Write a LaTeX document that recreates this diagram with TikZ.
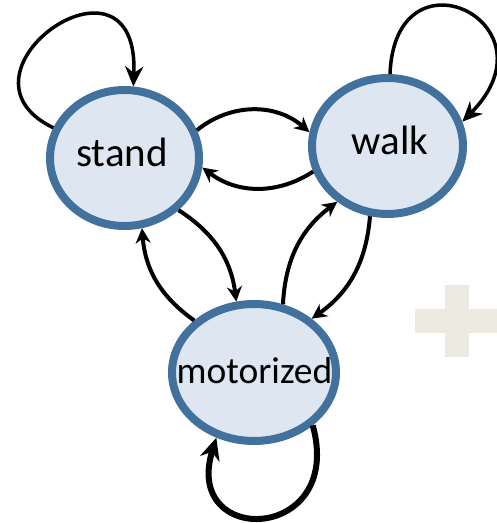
\documentclass[tikz,border=0pt]{standalone}
\usepackage{fontspec}
\setmainfont{Carlito}
\usetikzlibrary{shapes.geometric,arrows.meta}
\definecolor{stborder}{RGB}{65,113,156}
\definecolor{stfill}{RGB}{222,230,241}
\definecolor{plusgray}{RGB}{236,234,224}
\begin{document}
\begin{tikzpicture}[x=1pt,y=1pt,
  state/.style={ellipse,draw=stborder,fill=stfill,line width=8pt,inner sep=0pt},
  lbl/.style={anchor=base,inner sep=0pt,font=\fontsize{41}{43}\selectfont},
  conn/.style={line width=4pt,-{Stealth[length=15pt,width=15pt]}},
  loopconn/.style={line width=3.5pt,-{Stealth[length=20pt,width=18pt]}},
  thickloop/.style={line width=6pt,-{Stealth[length=22pt,width=20pt]}}]
\useasboundingbox (0,0) rectangle (497,523);
% plus sign
\fill[plusgray] (445,166) rectangle (469,238);
\fill[plusgray] (415,190) rectangle (497,214);
% states
\node[state,minimum width=149pt,minimum height=136pt] (stand) at (124.5,365) {};
\node[state,minimum width=151pt,minimum height=136pt] (walk) at (387.5,377) {};
\node[state,minimum width=164pt,minimum height=137pt] (motor) at (254,150.5) {};
\node[lbl] (standtext) at (122,356) {stand};
\node[lbl] (walktext) at (390,368) {walk};
\node[lbl,font=\fontsize{37.5}{40}\selectfont] (motortext) at (254.5,139) {motorized};
% self loops
\draw[loopconn] (stand.157) .. controls (-60,450) and (140,590) .. (stand.83);
\draw[loopconn] (walk.88) .. controls (395,580) and (560,500) .. (walk.18);
\draw[thickloop] (motor.-42) .. controls (345,-20) and (182,-25) .. (motor.-120);
% transitions
\draw[conn] (stand.21) to[bend left=40] (walk.170);
\draw[conn] (walk.199) to[bend left=35] (stand.-7);
\draw[conn] (stand.-44) to[bend left=25] (motor.104);
\draw[conn] (motor.139) to[bend left=25] (stand.-76);
\draw[conn] (motor.67) to[bend left=25] (walk.228);
\draw[conn] (walk.-104) to[bend left=25] (motor.43);
\end{tikzpicture}
\end{document}
